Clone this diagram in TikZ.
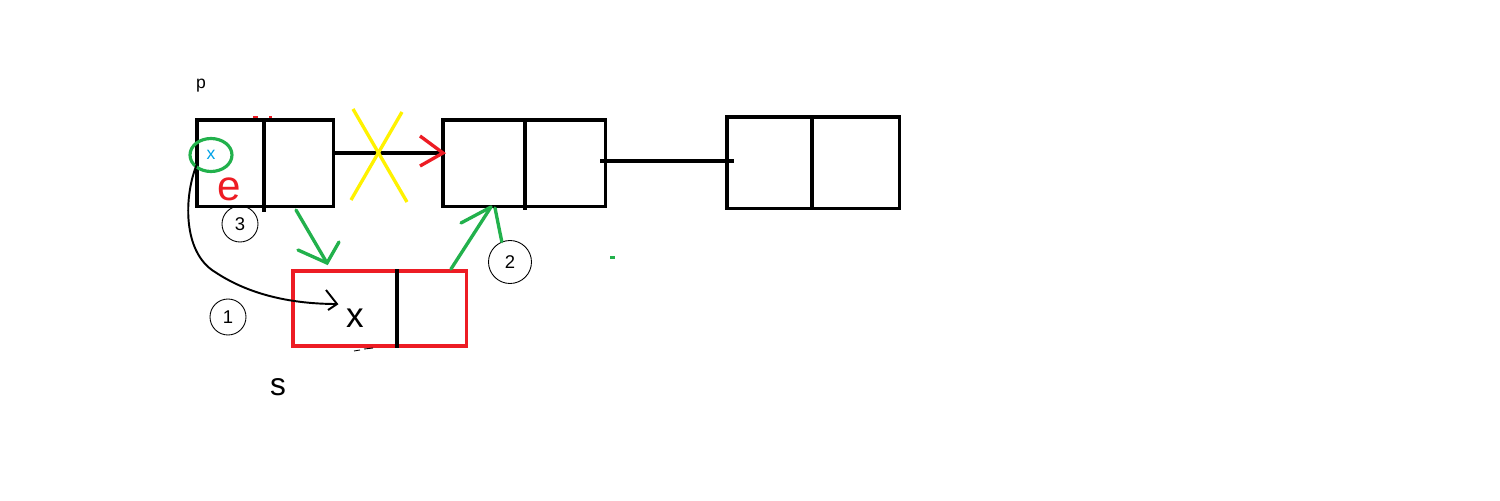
\documentclass[tikz,border=0pt]{standalone}
\usepackage{fontspec}
\setmainfont{Liberation Sans}
\usetikzlibrary{shapes.geometric}
\definecolor{pgreen}{HTML}{22B14C}
\definecolor{pred}{HTML}{ED1C24}
\definecolor{pyellow}{HTML}{FFF200}
\definecolor{pblue}{HTML}{00A2E8}
\begin{document}
\begin{tikzpicture}[x=0.02cm,y=-0.02cm,
  box/.style={draw, line width=2pt, inner sep=0pt, anchor=north west},
  thick1/.style={line width=2pt},
  gline/.style={draw=pgreen, line width=1.9pt, line cap=round},
  num/.style={draw, circle, line width=0.5pt, minimum size=0.72cm, inner sep=0pt, font=\fontsize{10.5}{12}\selectfont},
  lbl/.style={inner sep=0pt}]
\useasboundingbox[fill=white] (0,0) rectangle (1500,500);

% boxes
\node[box, minimum width=2.74cm, minimum height=1.74cm] (A) at (195,118) {};
\node[box, minimum width=3.26cm, minimum height=1.74cm] (B) at (441,118) {};
\node[box, minimum width=3.46cm, minimum height=1.84cm] (C) at (725,115) {};
\node[box, draw=pred, minimum width=3.48cm, minimum height=1.50cm] (S) at (291,269) {};
% dividers
\draw[thick1] (264,118) -- (264,212);
\draw[thick1] (525,118) -- (525,210);
\draw[thick1] (812,115) -- (812,210);
\draw[thick1] (397,269) -- (397,348);

% texts
\node[lbl, font=\fontsize{10}{12}\selectfont] (p) at (201,86) {p};
\node[lbl, text=pblue, font=\fontsize{10}{12}\selectfont] (xa) at (211,155) {x};
\node[draw=pgreen, line width=1.8pt, ellipse, minimum width=0.84cm, minimum height=0.66cm, inner sep=0pt] (ring) at (211,155) {};
\node[lbl, text=pred, font=\fontsize{24}{26}\selectfont] (e) at (229,189) {e};
\node[lbl, font=\fontsize{20}{22}\selectfont] (xs) at (355,318) {x};
\node[lbl, font=\fontsize{18}{20}\selectfont] (s) at (278,387) {s};

% numbered circles
\node[num] (n3) at (240,224) {3};
\node[num, minimum size=0.86cm] (n2) at (510,262) {2};
\node[num] (n1) at (228,317) {1};

% A -> B link, crossed out
\coordinate (ab1) at (332,153);
\coordinate (ab2) at (443,153);
\draw[thick1] (ab1) -- (ab2);
\draw[draw=pred, line width=1.9pt] (420,136) -- (ab2) -- (420,166);
\draw[draw=pyellow, line width=1.9pt] (353,109) -- (407,202);
\draw[draw=pyellow, line width=1.9pt] (402,112) -- (351,200);

% B -> C link
\coordinate (bc1) at (600,161);
\coordinate (bc2) at (734,161);
\draw[thick1] (bc1) -- (bc2);

% green arrow A -> S (step 3)
\coordinate (g1s) at (296,210);
\coordinate (g1t) at (327,263);
\draw[gline] (g1s) -- (g1t);
\draw[gline] (298,250) -- (g1t) -- (339,242);

% green arrow S -> B (step 2)
\coordinate (g2s) at (451,269);
\coordinate (g2t) at (491,207);
\draw[gline] (g2s) -- (g2t);
\draw[gline] (461,223) -- (g2t);
\draw[gline] (495,208) -- (n2.112);

% black curve (step 1)
\coordinate (c1s) at (197,164);
\coordinate (c1t) at (337,304);
\draw[line width=1.1pt] (c1s) .. controls (184,195) and (182,252) .. (215,272)
  .. controls (245,292) and (285,304) .. (c1t);
\draw[line width=1.1pt] (326,290) -- (c1t) -- (328,310);

% small stray marks
\draw[draw=pred, line width=1.2pt] (253,117) -- (258,117);
\fill[pred] (269,116) rectangle (272,118);
\fill[pgreen] (610,256) rectangle (615,259);
\draw[line width=0.5pt] (354,351) -- (360,350);
\draw[line width=0.5pt] (364,349) -- (373,348);
\end{tikzpicture}
\end{document}
